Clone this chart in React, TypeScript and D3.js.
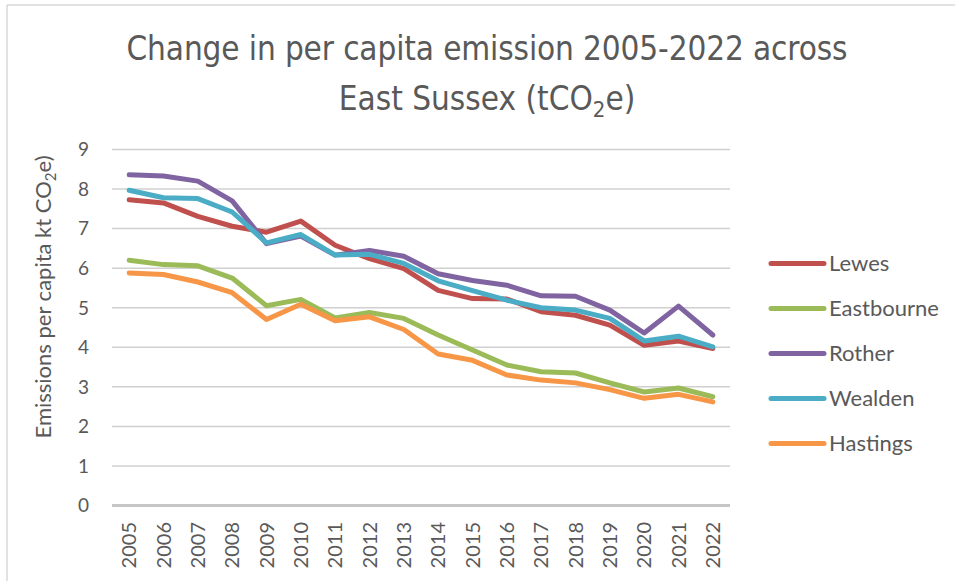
import React from 'react';
import * as d3 from 'd3';

// per capita emissions, tCO2e
const years = ['2005', '2006', '2007', '2008', '2009', '2010', '2011', '2012', '2013',
    '2014', '2015', '2016', '2017', '2018', '2019', '2020', '2021', '2022'];
const lewes = [7.73, 7.65, 7.31, 7.06, 6.91, 7.19, 6.58, 6.24, 5.99, 5.44, 5.23, 5.22, 4.90, 4.81, 4.56, 4.05, 4.16, 3.97];
const eastbourne = [6.20, 6.09, 6.06, 5.75, 5.05, 5.21, 4.74, 4.88, 4.73, 4.31, 3.93, 3.55, 3.38, 3.35, 3.10, 2.87, 2.97, 2.75];
const rother = [8.36, 8.33, 8.20, 7.70, 6.62, 6.81, 6.33, 6.45, 6.30, 5.86, 5.69, 5.57, 5.30, 5.29, 4.94, 4.36, 5.04, 4.31];
const wealden = [7.97, 7.78, 7.76, 7.42, 6.64, 6.85, 6.33, 6.35, 6.12, 5.68, 5.43, 5.19, 5.00, 4.94, 4.73, 4.16, 4.28, 4.01];
const hastings = [5.88, 5.84, 5.65, 5.38, 4.70, 5.09, 4.67, 4.77, 4.45, 3.83, 3.67, 3.30, 3.17, 3.10, 2.93, 2.71, 2.81, 2.62];
const yTicks = [0, 1, 2, 3, 4, 5, 6, 7, 8, 9];

const seriesNames = ['Lewes', 'Eastbourne', 'Rother', 'Wealden', 'Hastings'];
const seriesValues = [lewes, eastbourne, rother, wealden, hastings];
const colors = ['#C0504D', '#9BBB59', '#8064A2', '#4BACC6', '#F79646'];

const W = 955, H = 581;
const margin = {top: 149.5, right: 225, bottom: 75.5, left: 112};
const textColor = '#595959';
const font = 'Lato, "Open Sans", sans-serif';
const titleFont = '"Liberation Sans Narrow", "DejaVu Sans Condensed", sans-serif';

export default function App() {
    const x = d3.scaleBand().domain(years).range([margin.left, W - margin.right]);
    const y = d3.scaleLinear().domain([0, 9]).range([H - margin.bottom, margin.top]);
    const cx = (yr: string) => (x(yr) as number) + x.bandwidth() / 2;

    const line = d3.line<number>()
        .x((d, i) => cx(years[i]))
        .y(d => y(d));

    return (
        <div style={{position: 'absolute', left: 0, top: 0}}>
            <svg width={W} height={H} style={{display: 'block', background: '#fff'}}>
                {/* frame edges */}
                <line x1={7} y1={5} x2={W} y2={5} stroke="#d9d9d9" strokeWidth={1.5}/>
                <line x1={7} y1={5} x2={7} y2={H} stroke="#d9d9d9" strokeWidth={1.5}/>

                {/* title */}
                <text x={487} y={60} textAnchor="middle" fill={textColor}
                      style={{fontFamily: titleFont, fontSize: 33}}
                      textLength={721} lengthAdjust="spacing">
                    Change in per capita emission 2005-2022 across
                </text>
                <text x={487} y={110} textAnchor="middle" fill={textColor}
                      style={{fontFamily: titleFont, fontSize: 33}}>
                    East Sussex (tCO<tspan fontSize={22} dy={7}>2</tspan><tspan dy={-7}>e)</tspan>
                </text>

                {/* gridlines */}
                {yTicks.map(t => (
                    <line key={t} x1={margin.left} x2={W - margin.right} y1={y(t)} y2={y(t)}
                          stroke={t === 0 ? '#c6c6c6' : '#d0d0d0'} strokeWidth={t === 0 ? 3 : 1.5}/>
                ))}

                {/* y tick labels */}
                {yTicks.map(t => (
                    <text key={'l' + t} x={89} y={y(t)} dy="0.36em" textAnchor="end" fill={textColor}
                          style={{fontFamily: font, fontSize: 19}}>{t}</text>
                ))}

                {/* x tick labels */}
                {years.map(yr => (
                    <text key={yr} transform={`translate(${cx(yr) + 7},522) rotate(-90)`} textAnchor="end"
                          fill={textColor} style={{fontFamily: font, fontSize: 20}}>{yr}</text>
                ))}

                {/* y axis title */}
                <text transform="translate(51,297) rotate(-90)" textAnchor="middle" fill={textColor}
                      style={{fontFamily: font, fontSize: 22}}>
                    Emissions per capita kt CO<tspan fontSize={15} dy={5}>2</tspan><tspan dy={-5}>e)</tspan>
                </text>

                {/* series */}
                {seriesValues.map((vals, i) => (
                    <path key={seriesNames[i]} d={line(vals) as string} fill="none" stroke={colors[i]}
                          strokeWidth={5} strokeLinejoin="round" strokeLinecap="round"/>
                ))}

                {/* legend */}
                {seriesNames.map((name, i) => {
                    const ly = 263.5 + i * 45;
                    return (
                        <g key={'lg' + name}>
                            <line x1={771} x2={824} y1={ly} y2={ly} stroke={colors[i]} strokeWidth={5}
                                  strokeLinecap="round"/>
                            <text x={829} y={ly} dy="0.36em" fill={textColor}
                                  style={{fontFamily: font, fontSize: 22}}>{name}</text>
                        </g>
                    );
                })}
            </svg>
        </div>
    );
}
